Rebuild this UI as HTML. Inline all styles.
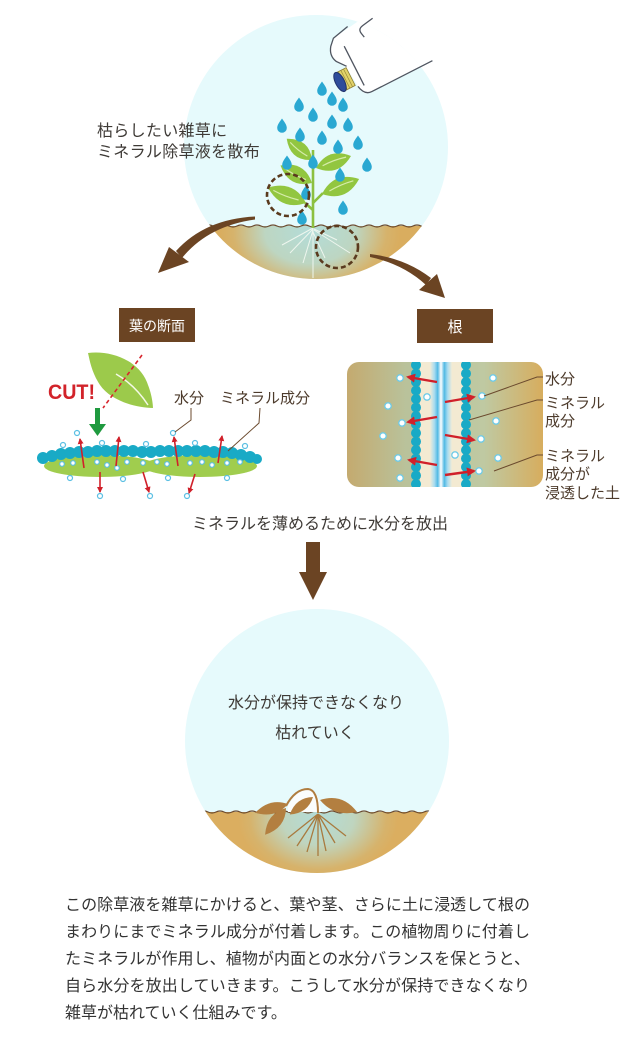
<!DOCTYPE html>
<html><head><meta charset="utf-8"><style>
html,body{margin:0;padding:0;background:#fff;}
svg{display:block;}
text{font-family:"Liberation Sans","Noto Sans CJK JP",sans-serif;}
</style></head><body>
<svg width="640" height="1057" viewBox="0 0 640 1057" xmlns="http://www.w3.org/2000/svg">
<defs>
<clipPath id="c1"><circle cx="316" cy="147" r="132"/></clipPath>
<clipPath id="c2"><circle cx="317" cy="741" r="132"/></clipPath>
<clipPath id="rr"><rect x="347" y="362" width="196" height="125" rx="12"/></clipPath>
<radialGradient id="sg1" gradientUnits="userSpaceOnUse" cx="310" cy="232" r="90" gradientTransform="translate(310 232) scale(1 0.7) translate(-310 -232)">
<stop offset="0" stop-color="#b3dcd8"/><stop offset="0.5" stop-color="#bdd6c2"/><stop offset="0.85" stop-color="#d6b36c"/><stop offset="1" stop-color="#d9ad5f"/></radialGradient>
<radialGradient id="sg2" gradientUnits="userSpaceOnUse" cx="318" cy="818" r="80" gradientTransform="translate(318 818) scale(1 0.75) translate(-318 -818)">
<stop offset="0" stop-color="#b3dcd8"/><stop offset="0.45" stop-color="#bfd5bf"/><stop offset="0.85" stop-color="#d6b36c"/><stop offset="1" stop-color="#dbae60"/></radialGradient>
<linearGradient id="rg" x1="347" y1="0" x2="543" y2="0" gradientUnits="userSpaceOnUse">
<stop offset="0" stop-color="#c4aa6f"/><stop offset="0.3" stop-color="#b9c29b"/><stop offset="0.7" stop-color="#bfc9a2"/><stop offset="1" stop-color="#d7ad5e"/></linearGradient>
<linearGradient id="cb" x1="430" y1="0" x2="452" y2="0" gradientUnits="userSpaceOnUse">
<stop offset="0" stop-color="#f3ecd6"/><stop offset="0.2" stop-color="#a8dcf0"/><stop offset="0.35" stop-color="#52b9e3"/><stop offset="0.5" stop-color="#ffffff"/><stop offset="0.65" stop-color="#52b9e3"/><stop offset="0.8" stop-color="#a8dcf0"/><stop offset="1" stop-color="#f3ecd6"/></linearGradient>
<marker id="ah" markerWidth="6" markerHeight="6" refX="5" refY="3" orient="auto" markerUnits="userSpaceOnUse"><path d="M0,0 L6,3 L0,6 Z" fill="#d0202a"/></marker>
<marker id="ah2" markerWidth="9" markerHeight="9" refX="7" refY="4.5" orient="auto" markerUnits="userSpaceOnUse"><path d="M0,0 L9,4.5 L0,9 Z" fill="#d0202a"/></marker>
<path id="drop" d="M0,-7.5 C2,-4.5 4.8,-1.5 4.8,2 A4.8,4.8 0 0 1 -4.8,2 C-4.8,-1.5 -2,-4.5 0,-7.5Z" fill="#2aa8d2"/>
</defs>

<!-- TOP CIRCLE -->
<circle cx="316" cy="147" r="132" fill="#e6fafc"/>
<g clip-path="url(#c1)">
<rect x="180" y="226" width="280" height="60" fill="url(#sg1)"/>
<g transform="translate(340,82) rotate(-27)">
<path d="M12 -11 L6 -20 Q2 -28 8 -36 L14 -42 L60 -48 L140 -48 L140 23 L22 23 Q16 23 15 16 L14 11 Z" fill="#fff"/>
</g>
</g>
<g transform="translate(340,82) rotate(-27)" fill="none" stroke="#4f5560" stroke-width="1.3">
<path d="M13 -11 L6 -20 Q2 -28 8 -36 L14 -42 L32 -46"/>
<path d="M58 -42 L46 -40 Q40 -39 41 -34 L42 -29"/>
<path d="M20 -30 L20 14"/>
<path d="M14 12 Q16 23 24 23 L92 23"/>
<rect x="0" y="-10" width="12" height="20" fill="#e2d36a" stroke="#8a7a30" stroke-width="0.8"/>
<path d="M3 -10 V10 M6 -10 V10 M9 -10 V10" stroke="#9a8a3a" stroke-width="0.7"/>
<ellipse cx="0" cy="0" rx="4.5" ry="10.5" fill="#2e4c9b" stroke="#22326b" stroke-width="1"/>
</g>
<path d="M205 226 Q209 224 213 226 T221 226 T229 226 T237 226 T245 226 T253 226 T261 226 T269 226 T277 226 T285 226 T293 226 T301 226 T309 226 T317 226 T325 226 T333 226 T341 226 T349 226 T357 226 T365 226 T373 226 T381 226 T389 226 T397 226 T405 226 T413 226 T421 226 T429 226" fill="none" stroke="#6b4a2e" stroke-width="1.2" clip-path="url(#c1)"/>
<g stroke="#eef6ee" stroke-width="1" fill="none">
<path d="M313 228 L282 245 M313 229 L290 253 M313 230 L303 263 M313 228 L313 278 M314 229 L337 240 M314 230 L350 253 M313 232 L325 258"/>
</g>
<g stroke="#8cc040" stroke-width="2.6" fill="none">
<path d="M313 150 L313 228"/>
<path d="M313 203 L323 193 M313 210 L305 203"/>
</g>
<g fill="#92c640">
<g transform="translate(312,160) rotate(-140)"><path d="M0 0 Q16 -15 33 0 Q16 15 0 0Z"/><path d="M6 0 Q17 -2 28 -0.5" stroke="#d6ecaa" stroke-width="1.2" fill="none"/></g>
<g transform="translate(316,168) rotate(-19)"><path d="M0 0 Q18 -16 37 0 Q18 16 0 0Z"/><path d="M7 0 Q19 -2 32 -0.5" stroke="#d6ecaa" stroke-width="1.2" fill="none"/></g>
<g transform="translate(312,183) rotate(-151)"><path d="M0 0 Q17.5 -16 36 0 Q17.5 16 0 0Z"/><path d="M7 0 Q19 -2 31 -0.5" stroke="#d6ecaa" stroke-width="1.2" fill="none"/></g>
<g transform="translate(322,194) rotate(-22)"><path d="M0 0 Q19.5 -17 40 0 Q19.5 17 0 0Z"/><path d="M8 0 Q21 -2 34 -0.5" stroke="#d6ecaa" stroke-width="1.2" fill="none"/></g>
<g transform="translate(306,203) rotate(-158)"><path d="M0 0 Q20 -17 41 0 Q20 17 0 0Z"/><path d="M8 0 Q22 -2 35 -0.5" stroke="#d6ecaa" stroke-width="1.2" fill="none"/></g>
</g>
<use href="#drop" x="322" y="89"/><use href="#drop" x="332" y="99"/><use href="#drop" x="343" y="105"/>
<use href="#drop" x="299" y="105"/><use href="#drop" x="313" y="115"/><use href="#drop" x="332" y="122"/>
<use href="#drop" x="348" y="125"/><use href="#drop" x="282" y="126"/><use href="#drop" x="300" y="135"/>
<use href="#drop" x="322" y="138"/><use href="#drop" x="338" y="147"/><use href="#drop" x="358" y="143"/>
<use href="#drop" x="313" y="162"/><use href="#drop" x="287" y="163"/><use href="#drop" x="367" y="165"/>
<use href="#drop" x="340" y="175"/><use href="#drop" x="306" y="193"/><use href="#drop" x="343" y="208"/>
<use href="#drop" x="302" y="218"/>
<circle cx="288" cy="195" r="21" fill="none" stroke="#5a3a1e" stroke-width="2.6" stroke-dasharray="5 3"/>
<circle cx="337" cy="247" r="21" fill="none" stroke="#5a3a1e" stroke-width="2.6" stroke-dasharray="5 3"/>

<text x="97" y="136" font-size="16" fill="#3e3a36" letter-spacing="0.3">枯らしたい雑草に</text>
<text x="97" y="157" font-size="16" fill="#3e3a36" letter-spacing="0.3">ミネラル除草液を散布</text>

<g fill="#6b4423">
<path d="M255 216.5 Q205 219 176 251 L182 258 Q208 226 255 219.5 Z"/>
<path d="M158 273 L169 247 L189 262 Z"/>
<path d="M370 254 Q405 258 431 278 L426 285 Q403 264 370 257 Z"/>
<path d="M445 298 L437 274 L419 290 Z"/>
</g>

<rect x="119" y="308" width="76" height="34" fill="#6b4423"/>
<text x="157" y="331" font-size="14" fill="#fff" text-anchor="middle">葉の断面</text>
<rect x="417" y="309" width="76" height="34" fill="#6b4423"/>
<text x="455" y="332" font-size="15" fill="#fff" text-anchor="middle">根</text>

<!-- LEAF SECTION -->
<path d="M88 353 C110 350 140 360 148 385 C152 395 153 405 153 408 C135 408 110 400 100 385 C92 373 90 362 88 353 Z" fill="#9cca4b"/>
<path d="M116 374 Q135 385 148 405" stroke="#f4f9e6" stroke-width="1.5" fill="none"/>
<path d="M142 355 L103 408" stroke="#d7262e" stroke-width="1.6" stroke-dasharray="4 3" fill="none"/>
<text x="48" y="399" font-size="21" font-weight="bold" fill="#d2232a" textLength="47" lengthAdjust="spacingAndGlyphs">CUT!</text>
<rect x="95" y="408" width="5" height="17" fill="#1f9a3f"/>
<path d="M89 424 L106 424 L97.5 436 Z" fill="#1f9a3f"/>

<ellipse cx="100" cy="466" rx="56" ry="11" fill="#a0cd4e"/>
<ellipse cx="200" cy="466" rx="57" ry="11" fill="#a0cd4e"/>
<g fill="#19aac6">
<circle cx="43" cy="458" r="6"/><circle cx="52" cy="456" r="6"/><circle cx="61" cy="454" r="6"/><circle cx="70" cy="453" r="6"/><circle cx="79" cy="452" r="6"/><circle cx="88" cy="452" r="6"/><circle cx="97" cy="451" r="6"/><circle cx="106" cy="451" r="6"/><circle cx="115" cy="451" r="6"/><circle cx="124" cy="451" r="6"/><circle cx="133" cy="451" r="6"/><circle cx="142" cy="452" r="6"/><circle cx="151" cy="452" r="6"/><circle cx="160" cy="451" r="6"/><circle cx="169" cy="451" r="6"/><circle cx="178" cy="451" r="6"/><circle cx="187" cy="451" r="6"/><circle cx="196" cy="451" r="6"/><circle cx="205" cy="451" r="6"/><circle cx="214" cy="452" r="6"/><circle cx="223" cy="452" r="6"/><circle cx="232" cy="453" r="6"/><circle cx="241" cy="455" r="6"/><circle cx="250" cy="457" r="6"/><circle cx="257" cy="459" r="5"/>
</g>
<g fill="#fff" stroke="#5bbfe3" stroke-width="1.2">
<circle cx="77" cy="433" r="2.5"/><circle cx="63" cy="445" r="2.5"/><circle cx="102" cy="443" r="2.5"/><circle cx="146" cy="444" r="2.5"/><circle cx="173" cy="433" r="2.5"/><circle cx="195" cy="443" r="2.5"/><circle cx="245" cy="446" r="2.5"/>
<circle cx="62" cy="464" r="2.3"/><circle cx="73" cy="463" r="2.3"/><circle cx="97" cy="462" r="2.3"/><circle cx="107" cy="465" r="2.3"/><circle cx="117" cy="468" r="2.3"/><circle cx="127" cy="462" r="2.3"/><circle cx="143" cy="463" r="2.3"/><circle cx="157" cy="462" r="2.3"/><circle cx="167" cy="464" r="2.3"/><circle cx="190" cy="463" r="2.3"/><circle cx="202" cy="462" r="2.3"/><circle cx="212" cy="465" r="2.3"/><circle cx="227" cy="463" r="2.3"/><circle cx="240" cy="462" r="2.3"/>
<circle cx="70" cy="478" r="2.5"/><circle cx="123" cy="479" r="2.5"/><circle cx="168" cy="478" r="2.5"/><circle cx="227" cy="478" r="2.5"/><circle cx="100" cy="496" r="2.5"/><circle cx="150" cy="496" r="2.5"/><circle cx="187" cy="496" r="2.5"/>
</g>
<g stroke="#d0202a" stroke-width="1.6" marker-end="url(#ah)">
<line x1="84" y1="468" x2="80" y2="439"/><line x1="116" y1="466" x2="119" y2="437"/><line x1="178" y1="466" x2="174" y2="437"/><line x1="218" y1="463" x2="222" y2="436"/>
<line x1="100" y1="472" x2="100" y2="492"/><line x1="143" y1="472" x2="149" y2="492"/><line x1="195" y1="474" x2="189" y2="493"/>
</g>
<text x="174" y="403" font-size="15" fill="#4d3b2c">水分</text>
<text x="220" y="403" font-size="15" fill="#4d3b2c">ミネラル成分</text>
<path d="M191 408 L191 420 L175 432 M260 408 L259 423 L228 451" stroke="#6b4a2e" stroke-width="1" fill="none"/>

<!-- ROOT SECTION -->
<rect x="347" y="362" width="196" height="125" rx="12" fill="url(#rg)"/>
<g clip-path="url(#rr)">
<rect x="420" y="362" width="43" height="125" fill="#f3ead2"/>
<rect x="430" y="362" width="22" height="125" fill="url(#cb)"/>
<g fill="#19aac6">
<circle cx="416" cy="365" r="5"/><circle cx="416" cy="373.5" r="5"/><circle cx="416" cy="382" r="5"/><circle cx="416" cy="390.5" r="5"/><circle cx="416" cy="399" r="5"/><circle cx="416" cy="407.5" r="5"/><circle cx="416" cy="416" r="5"/><circle cx="416" cy="424.5" r="5"/><circle cx="416" cy="433" r="5"/><circle cx="416" cy="441.5" r="5"/><circle cx="416" cy="450" r="5"/><circle cx="416" cy="458.5" r="5"/><circle cx="416" cy="467" r="5"/><circle cx="416" cy="475.5" r="5"/><circle cx="416" cy="484" r="5"/>
<circle cx="466" cy="365" r="5"/><circle cx="466" cy="373.5" r="5"/><circle cx="466" cy="382" r="5"/><circle cx="466" cy="390.5" r="5"/><circle cx="466" cy="399" r="5"/><circle cx="466" cy="407.5" r="5"/><circle cx="466" cy="416" r="5"/><circle cx="466" cy="424.5" r="5"/><circle cx="466" cy="433" r="5"/><circle cx="466" cy="441.5" r="5"/><circle cx="466" cy="450" r="5"/><circle cx="466" cy="458.5" r="5"/><circle cx="466" cy="467" r="5"/><circle cx="466" cy="475.5" r="5"/><circle cx="466" cy="484" r="5"/>
</g>
</g>
<g fill="#fff" stroke="#6fcbe8" stroke-width="1.3">
<circle cx="400" cy="378" r="3.2"/><circle cx="427" cy="397" r="3.2"/><circle cx="388" cy="406" r="3.2"/><circle cx="402" cy="423" r="3.2"/><circle cx="383" cy="436" r="3.2"/><circle cx="398" cy="458" r="3.2"/><circle cx="400" cy="478" r="3.2"/><circle cx="455" cy="455" r="3.2"/><circle cx="482" cy="396" r="3.2"/><circle cx="493" cy="378" r="3.2"/><circle cx="496" cy="421" r="3.2"/><circle cx="481" cy="439" r="3.2"/><circle cx="498" cy="458" r="3.2"/><circle cx="479" cy="471" r="3.2"/>
</g>
<g stroke="#d0202a" stroke-width="2.4" marker-end="url(#ah2)">
<line x1="437" y1="382" x2="408" y2="377"/><line x1="437" y1="417" x2="408" y2="422"/><line x1="437" y1="465" x2="409" y2="460"/>
<line x1="445" y1="402" x2="474" y2="397"/><line x1="445" y1="435" x2="474" y2="440"/><line x1="445" y1="475" x2="474" y2="471"/>
</g>
<path d="M543 377 L537 377 L484 396 M543 400 L537 400 L469 420 M543 455 L537 455 L494 471" stroke="#6b4a2e" stroke-width="1" fill="none"/>
<g font-size="15" fill="#4d3b2c">
<text x="545" y="384">水分</text>
<text x="545" y="408">ミネラル</text>
<text x="545" y="426">成分</text>
<text x="545" y="461">ミネラル</text>
<text x="545" y="479">成分が</text>
<text x="545" y="498">浸透した土</text>
</g>

<text x="320" y="529" font-size="16" fill="#3e3a36" text-anchor="middle">ミネラルを薄めるために水分を放出</text>
<rect x="306" y="542" width="14" height="32" fill="#6b4423"/>
<path d="M299 572 L327 572 L313 600 Z" fill="#6b4423"/>

<!-- BOTTOM CIRCLE -->
<circle cx="317" cy="741" r="132" fill="#e6fafc"/>
<g clip-path="url(#c2)">
<rect x="180" y="812" width="280" height="70" fill="url(#sg2)"/>
</g>
<path d="M200 812 Q204 810 208 812 T216 812 T224 812 T232 812 T240 812 T248 812 T256 812 T264 812 T272 812 T280 812 T288 812 T296 812 T304 812 T312 812 T320 812 T328 812 T336 812 T344 812 T352 812 T360 812 T368 812 T376 812 T384 812 T392 812 T400 812 T408 812 T416 812 T424 812 T432 812" fill="none" stroke="#6b4a2e" stroke-width="1.2" clip-path="url(#c2)"/>
<g stroke="#a97a3e" stroke-width="1.3" fill="none">
<path d="M318 814 L288 838 M318 814 L297 846 M318 814 L307 852 M318 814 L318 856 M318 814 L326 851 M318 814 L335 843 M318 814 L346 836"/>
</g>
<path d="M288 806 Q296 790 308 789 Q318 790 320 806 L322 812 L288 812 Z" fill="#fbfdfd"/>
<path d="M286 806 Q295 789 308 789 Q318 790 318 813" stroke="#b07d40" stroke-width="2" fill="none"/>
<g fill="#b37f40">
<g transform="translate(288,804) rotate(165)"><path d="M0 0 Q16 -11 34 0 Q16 11 0 0Z"/></g>
<g transform="translate(286,808) rotate(128)"><path d="M0 0 Q16 -12 34 0 Q16 12 0 0Z"/></g>
<g transform="translate(313,797) rotate(143)"><path d="M0 0 Q14 -10 29 0 Q14 10 0 0Z"/></g>
<g transform="translate(320,800) rotate(18)"><path d="M0 0 Q19 -14 39 0 Q19 12 0 0Z"/></g>
</g>
<text x="316" y="708" font-size="16" fill="#3e3a36" text-anchor="middle">水分が保持できなくなり</text>
<text x="315" y="738" font-size="16" fill="#3e3a36" text-anchor="middle">枯れていく</text>

<g font-size="16" fill="#333">
<text x="65" y="910" textLength="465" lengthAdjust="spacing">この除草液を雑草にかけると、葉や茎、さらに土に浸透して根の</text>
<text x="65" y="937" textLength="465" lengthAdjust="spacing">まわりにまでミネラル成分が付着します。この植物周りに付着し</text>
<text x="65" y="964" textLength="465" lengthAdjust="spacing">たミネラルが作用し、植物が内面との水分バランスを保とうと、</text>
<text x="65" y="991" textLength="465" lengthAdjust="spacing">自ら水分を放出していきます。こうして水分が保持できなくなり</text>
<text x="65" y="1018">雑草が枯れていく仕組みです。</text>
</g>
</svg>
</body></html>
